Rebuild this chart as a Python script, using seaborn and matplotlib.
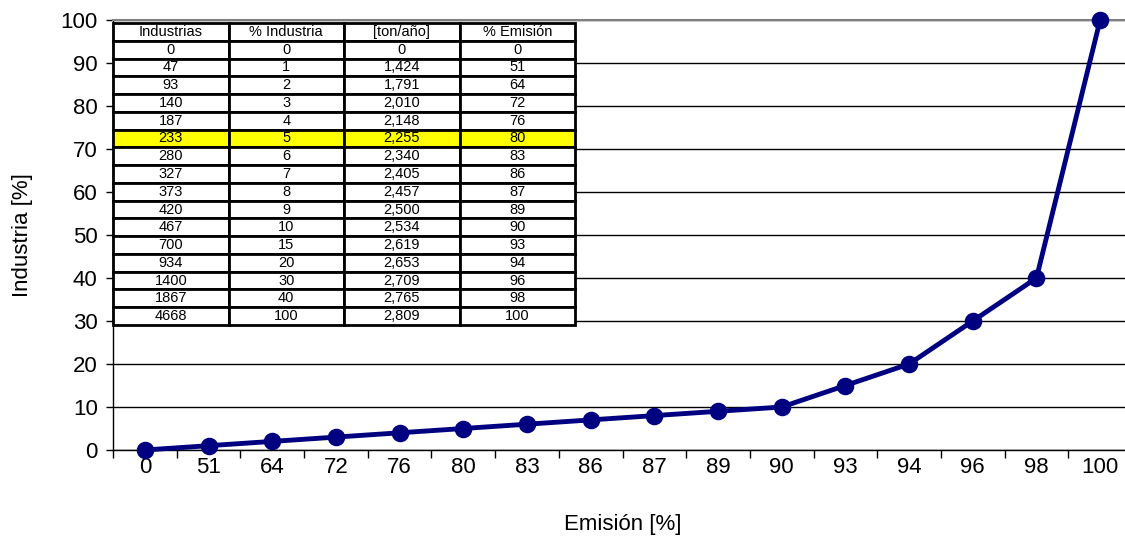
import matplotlib
matplotlib.use('Agg')
import numpy as np
import pandas as pd
import matplotlib.pyplot as plt
import seaborn as sns
from matplotlib.ticker import FixedLocator

emision = [0, 51, 64, 72, 76, 80, 83, 86, 87, 89, 90, 93, 94, 96, 98, 100]
industria = [0, 1, 2, 3, 4, 5, 6, 7, 8, 9, 10, 15, 20, 30, 40, 100]
industrias = [0, 47, 93, 140, 187, 233, 280, 327, 373, 420, 467, 700, 934, 1400, 1867, 4668]
toneladas = [0, 1424, 1791, 2010, 2148, 2255, 2340, 2405, 2457, 2500, 2534, 2619, 2653, 2709, 2765, 2809]
col_labels = ['Industrias', '% Industria', '[ton/año]', '% Emisión']
highlight_row = 5
y_ticks = list(range(0, 101, 10))

sns.set_style('white')
plt.rcParams['font.family'] = ['Liberation Sans', 'DejaVu Sans']
plt.rcParams['text.color'] = 'black'
plt.rcParams['axes.labelcolor'] = 'black'
plt.rcParams['xtick.color'] = 'black'
plt.rcParams['ytick.color'] = 'black'

df = pd.DataFrame({'emision': [str(e) for e in emision], 'industria': industria})

fig = plt.figure(figsize=(11.25, 5.44), dpi=100)
ax = fig.add_axes([113 / 1125, 1 - 450 / 544, 1019 / 1125, 430 / 544])

sns.pointplot(data=df, x='emision', y='industria', order=list(df['emision']),
              color='#000080', errorbar=None, markers='o', markersize=10,
              linewidth=3.5, ax=ax)
for line in ax.lines:
    line.set_clip_on(False)
    line.set_zorder(6)

ax.set_xlim(-0.5, len(emision) - 0.5)
ax.set_ylim(0, 100)
ax.set_yticks(y_ticks)
ax.xaxis.set_minor_locator(FixedLocator(np.arange(-0.5, len(emision), 1)))
ax.tick_params(axis='x', which='major', length=0, labelsize=16, pad=5)
ax.tick_params(axis='x', which='minor', length=6, width=1, color='black',
               direction='out', bottom=True)
ax.tick_params(axis='y', length=5, width=1, color='black', direction='out',
               left=True, labelsize=16, pad=6)

ax.yaxis.grid(True, color='black', linewidth=1)
ax.xaxis.grid(False)
ax.set_axisbelow(True)
for side in ['left', 'bottom']:
    ax.spines[side].set_color('black')
    ax.spines[side].set_linewidth(1)
for side in ['top', 'right']:
    ax.spines[side].set_color('#808080')
    ax.spines[side].set_linewidth(1.5)

ax.set_xlabel('Emisión [%]', fontsize=16, labelpad=26)
ax.set_ylabel('Industria [%]', fontsize=16, labelpad=20)

# embedded data table
cell_text = [[str(i), str(p), f'{t:,}', str(e)]
             for i, p, t, e in zip(industrias, industria, toneladas, emision)]
tbl = ax.table(cellText=cell_text, colLabels=col_labels, cellLoc='center',
               bbox=[0, (450 - 325) / 430, 462 / 1019, 302 / 430])
tbl.auto_set_font_size(False)
tbl.set_fontsize(10.5)
for (r, c), cell in tbl.get_celld().items():
    cell.set_linewidth(2)
    cell.set_edgecolor('black')
    cell.get_text().set_fontstretch('expanded')
    if r == highlight_row + 1:
        cell.set_facecolor('#ffff00')
tbl.set_zorder(5)

fig.savefig('out.png', dpi=100)
